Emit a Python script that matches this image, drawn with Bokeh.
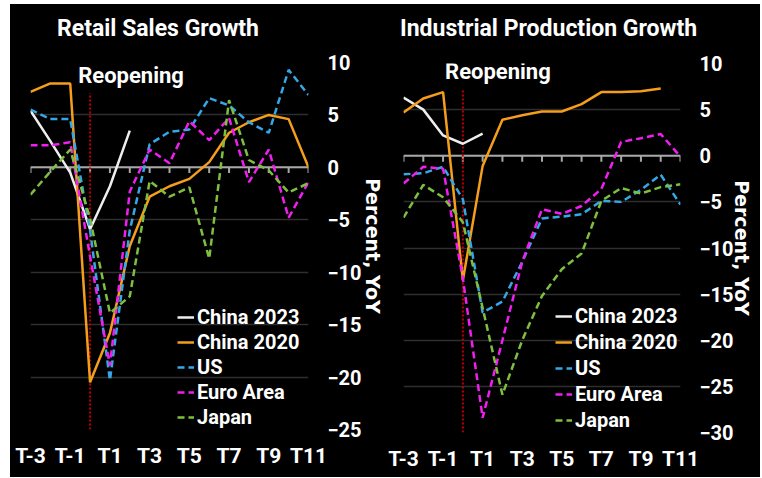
from bokeh.plotting import figure
from bokeh.models import Range1d, FixedTicker, SingleIntervalTicker, Span, Label, Spacer, Div
from bokeh.layouts import row, column
from bokeh.embed import file_html
from bokeh.resources import INLINE

# ---------------- data ----------------
categories = ["T-3", "T-2", "T-1", "T0", "T1", "T2", "T3", "T4", "T5",
              "T6", "T7", "T8", "T9", "T10", "T11"]
shown_ticks = ["T-3", "T-1", "T1", "T3", "T5", "T7", "T9", "T11"]
reopening_at = "T0"

series_names = ["China 2023", "China 2020", "US", "Euro Area", "Japan"]

# Retail sales growth, % YoY
rs_china_2023 = [5.4, 2.5, -0.5, -5.9, -1.8, 3.5]
rs_china_2020 = [7.2, 8.0, 8.0, -20.5, -15.8, -7.5, -2.8, -1.8, -1.1, 0.5, 3.3, 4.3, 5.0, 4.6, 0.0]
rs_us = [5.5, 4.6, 4.6, -6.0, -20.3, -6.0, 2.2, 3.4, 3.6, 6.6, 5.9, 4.3, 3.3, 9.3, 6.9]
rs_euro = [2.1, 2.1, 2.4, -8.5, -18.9, -2.3, 1.7, 0.4, 4.4, 2.6, 4.7, -1.4, 1.7, -4.8, -1.4]
rs_japan = [-2.6, -0.4, 1.7, -4.9, -13.9, -12.3, -1.3, -2.8, -1.9, -8.7, 6.4, 0.7, -0.3, -2.4, -1.5]

# Industrial production growth, % YoY
ip_china_2023 = [6.3, 5.0, 2.2, 1.3, 2.4]
ip_china_2020 = [4.7, 6.2, 6.9, -13.5, -1.1, 3.9, 4.4, 4.8, 4.8, 5.6, 6.9, 6.9, 7.0, 7.3]
ip_us = [-2.0, -1.9, -1.2, -4.7, -17.0, -15.8, -11.5, -6.8, -6.6, -6.35, -4.9, -5.0, -3.7, -2.05, -5.3]
ip_euro = [-3.0, -1.2, -1.4, -13.3, -28.4, -20.0, -11.5, -5.8, -6.3, -5.45, -3.6, 1.5, 1.9, 2.35, -0.1]
ip_japan = [-6.7, -3.15, -4.5, -7.2, -16.5, -25.9, -20.0, -15.2, -12.3, -10.6, -4.9, -3.5, -4.1, -3.4, -3.1]

# ---------------- style ----------------
FONT = "Roboto"
colors = ["#eeeeee", "#f59e1b", "#35a7e6", "#f01ef0", "#7fbf3f"]
dashes = ["solid", "solid", "7 4", "7 4", "7 4"]

idx = {c: i for i, c in enumerate(categories)}

TITLE_H = 40


def make_title(text, width, pad_left):
    html = ('<div style="font-family: Roboto, sans-serif; font-weight: bold; '
            'font-size: 23px; line-height: 23px; color: white; white-space: nowrap; '
            f'padding-top: 13px; padding-left: {pad_left}px; margin: 0;">{text}</div>')
    return Div(text=html, width=width, height=TITLE_H, margin=0,
               styles={"background-color": "black"})


def make_panel(data, y_lo, y_hi, width, height, border_left, border_right,
               border_top, border_bottom, legend_xy, legend_spacing, label_xy,
               tick_len, red_top, axis_label_standoff):
    p = figure(width=width, height=height,
               x_range=Range1d(0, len(categories) - 1),
               y_range=Range1d(y_lo, y_hi),
               y_axis_location="right",
               output_backend="svg", toolbar_location=None,
               min_border_left=border_left, min_border_right=border_right,
               min_border_top=border_top, min_border_bottom=border_bottom,
               background_fill_color="black", border_fill_color="black",
               outline_line_color=None)
    p.title.visible = False
    p.title.standoff = 0

    # grid
    p.xgrid.grid_line_color = None
    p.ygrid.ticker = SingleIntervalTicker(interval=5)
    p.ygrid.grid_line_color = "#2e2e2e"
    p.ygrid.grid_line_width = 1.5

    # x axis (labels only)
    xa = p.xaxis[0]
    xa.ticker = FixedTicker(ticks=[idx[c] for c in shown_ticks])
    xa.major_label_overrides = {i: c for i, c in enumerate(categories)}
    xa.axis_line_color = None
    xa.major_tick_line_color = None
    xa.major_tick_out = 0
    xa.major_tick_in = 0
    xa.minor_tick_line_color = None
    xa.major_label_standoff = 14
    xa.major_label_text_color = "white"
    xa.major_label_text_font = FONT
    xa.major_label_text_font_style = "bold"
    xa.major_label_text_font_size = "21px"

    # y axis on right
    ya = p.yaxis[0]
    ya.ticker = SingleIntervalTicker(interval=5)
    ya.axis_line_color = None
    ya.major_tick_line_color = None
    ya.major_tick_out = 0
    ya.major_tick_in = 0
    ya.minor_tick_line_color = None
    ya.major_label_standoff = 15
    ya.major_label_text_color = "white"
    ya.major_label_text_font = FONT
    ya.major_label_text_font_style = "bold"
    ya.major_label_text_font_size = "20px"
    ya.axis_label = "Percent, YoY"
    ya.axis_label_standoff = axis_label_standoff
    ya.axis_label_text_color = "white"
    ya.axis_label_text_font = "DejaVu Sans"
    ya.axis_label_text_font_style = "bold"
    ya.axis_label_text_font_size = "19px"

    # zero line with ticks
    p.add_layout(Span(location=0, dimension="width", line_color="#a8a8a8",
                      line_width=2, level="underlay"))
    xs = list(range(len(categories)))
    p.segment(x0=xs, y0=[0] * len(xs), x1=xs, y1=[-tick_len] * len(xs),
              line_color="#a8a8a8", line_width=2)

    # reopening marker
    r = idx[reopening_at]
    p.segment(x0=[r], y0=[y_lo], x1=[r], y1=[red_top], line_color="#c00000",
              line_width=2, line_dash="2 2")
    p.add_layout(Label(x=label_xy[0], y=label_xy[1], text="Reopening",
                       text_color="white", text_font=FONT,
                       text_font_style="bold", text_font_size="22px",
                       text_baseline="middle", text_align="left"))

    for name, vals, col, dash in zip(series_names, data, colors, dashes):
        xv = [idx[c] for c in categories[:len(vals)]]
        p.line(xv, vals, line_color=col, line_width=2.5, line_dash=dash,
               legend_label=name)

    lg = p.legend[0]
    lg.location = legend_xy
    lg.background_fill_alpha = 0
    lg.border_line_color = None
    lg.padding = 0
    lg.margin = 0
    lg.spacing = legend_spacing
    lg.glyph_width = 17
    lg.glyph_height = 20
    lg.label_height = 20
    lg.label_standoff = 3
    lg.label_text_color = "white"
    lg.label_text_font = FONT
    lg.label_text_font_style = "bold"
    lg.label_text_font_size = "20px"
    return p


H = 473 - TITLE_H
W1, W2 = 376, 374
p1 = make_panel([rs_china_2023, rs_china_2020, rs_us, rs_euro, rs_japan],
                -25, 10, W1, H, 20, 76, 58 - TITLE_H, 48,
                (147, 0), 1, (2.4, 8.8), 0.55, 7.1, -3)
p2 = make_panel([ip_china_2023, ip_china_2020, ip_us, ip_euro, ip_japan],
                -30, 10, W2, H, 17, 80, 59 - TITLE_H, 45,
                (152, 0), 2, (2.1, 9.1), 0.65, 7.3, -6)

left = column(make_title("Retail Sales Growth", W1, 47), p1, spacing=0)
right = column(make_title("Industrial Production Growth", W2, 14), p2, spacing=0)

panels = row(left, right, spacing=0, styles={"background-color": "black"})
layout = column(Spacer(height=4), row(Spacer(width=10), panels, spacing=0), spacing=0)
open("out.html", "w").write(file_html(layout, INLINE))
